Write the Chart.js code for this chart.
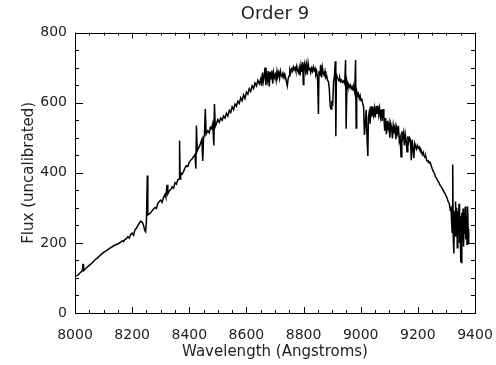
<!DOCTYPE html>
<html>
<head>
<meta charset="utf-8">
<title>Order 9</title>
<script src="https://cdn.jsdelivr.net/npm/chart.js@4/dist/chart.umd.min.js"></script>
<style>
  html, body { margin: 0; padding: 0; background: #fff; }
  #wrap { width: 496px; height: 365px; }
</style>
</head>
<body>
<div id="wrap"><canvas id="spectrumChart" width="496" height="365"></canvas></div>
<script>
// Spectrum, order 9 (wavelength in Angstroms, raw counts)
const wavelength = [
  8005, 8012, 8020, 8026, 8028, 8030, 8040, 8050, 8060, 8070, 8080, 8090, 8100, 8110, 8120, 8130,
  8140, 8150, 8160, 8165, 8170, 8175, 8180, 8185, 8190, 8195, 8200, 8205, 8210, 8215, 8220, 8225,
  8230, 8236, 8240, 8244, 8247, 8250, 8253, 8255, 8260, 8265, 8270, 8275, 8280, 8285, 8290, 8295,
  8300, 8305, 8310, 8315, 8318, 8322, 8325, 8330, 8335, 8340, 8345, 8350, 8355, 8360, 8364, 8366,
  8368, 8370, 8375, 8380, 8385, 8390, 8395, 8400, 8405, 8410, 8415, 8420, 8423, 8425, 8428, 8432,
  8436, 8440, 8444, 8447, 8450, 8453, 8456, 8459, 8465, 8470, 8474, 8478, 8482, 8486, 8488, 8491,
  8495, 8500, 8505, 8510, 8515, 8520, 8525, 8530, 8535, 8540, 8545, 8550, 8555, 8560, 8565, 8570,
  8575, 8580, 8585, 8590, 8595, 8600, 8605, 8610, 8615, 8620, 8625, 8630, 8635, 8640, 8645, 8650,
  8653, 8656, 8659, 8662, 8665, 8668, 8671, 8674, 8677, 8680, 8683, 8686, 8689, 8692, 8695, 8698,
  8701, 8704, 8707, 8710, 8713, 8716, 8719, 8722, 8725, 8728, 8731, 8734, 8737, 8740, 8743, 8746,
  8749, 8752, 8755, 8758, 8761, 8764, 8767, 8770, 8773, 8776, 8779, 8782, 8785, 8788, 8791, 8794,
  8797, 8799, 8801, 8804, 8807, 8810, 8813, 8816, 8819, 8822, 8825, 8828, 8831, 8834, 8837, 8840,
  8843, 8846, 8849, 8852, 8854, 8857, 8860, 8863, 8866, 8869, 8872, 8875, 8878, 8881, 8884, 8887,
  8890, 8893, 8896, 8899, 8902, 8905, 8908, 8911, 8913, 8915, 8918, 8921, 8924, 8927, 8930, 8933,
  8936, 8940, 8944, 8947, 8949, 8952, 8955, 8958, 8961, 8964, 8967, 8970, 8973, 8976, 8979, 8982,
  8984, 8986, 8989, 8992, 8995, 8998, 9001, 9004, 9007, 9010, 9013, 9016, 9019, 9022, 9025, 9027,
  9030, 9033, 9036, 9039, 9042, 9045, 9048, 9051, 9054, 9057, 9060, 9063, 9066, 9069, 9072, 9075,
  9078, 9081, 9084, 9087, 9090, 9093, 9096, 9099, 9102, 9105, 9108, 9111, 9114, 9117, 9120, 9123,
  9126, 9129, 9132, 9135, 9138, 9141, 9144, 9147, 9150, 9153, 9156, 9159, 9162, 9165, 9168, 9171,
  9174, 9177, 9180, 9183, 9186, 9189, 9192, 9195, 9198, 9201, 9204, 9207, 9210, 9213, 9216, 9219,
  9222, 9225, 9228, 9231, 9234, 9237, 9240, 9243, 9246, 9250, 9254, 9258, 9262, 9266, 9270, 9274,
  9278, 9282, 9286, 9290, 9294, 9298, 9302, 9306, 9310, 9313, 9316, 9318, 9320, 9322, 9324, 9326,
  9328, 9330, 9332, 9334, 9336, 9338, 9340, 9342, 9344, 9346, 9348, 9350, 9352, 9354, 9356, 9358,
  9360, 9362, 9364, 9366, 9368, 9370, 9372, 9374, 9376, 9378
];

const flux = [
  105, 110, 116, 122, 140, 121, 129, 136, 143, 152, 158, 166, 173, 178, 184, 189,
  194, 197, 202, 206, 204, 210, 212, 218, 214, 224, 228, 222, 238, 242, 250, 256,
  262, 258, 250, 236, 232, 260, 392, 280, 283, 286, 292, 297, 301, 298, 313, 318,
  322, 316, 330, 338, 330, 366, 340, 348, 352, 360, 356, 372, 368, 380, 382, 492,
  382, 400, 396, 404, 414, 420, 418, 430, 436, 440, 446, 452, 412, 535, 462, 470,
  476, 486, 496, 434, 500, 506, 582, 510, 520, 514, 530, 526, 540, 478, 596, 532,
  540, 552, 544, 556, 550, 562, 556, 570, 562, 578, 572, 588, 580, 596, 590, 604,
  598, 614, 606, 622, 612, 630, 624, 640, 632, 648, 640, 656, 648, 664, 654, 668,
  648, 686, 660, 676, 700, 650, 682, 664, 690, 646, 688, 668, 692, 654, 686, 672,
  680, 664, 690, 676, 686, 670, 690, 678, 674, 684, 676, 682, 672, 660, 648, 668,
  676, 694, 686, 696, 690, 702, 694, 700, 690, 704, 692, 686, 700, 678, 706, 688,
  716, 652, 700, 712, 690, 708, 680, 712, 694, 700, 686, 698, 690, 702, 692, 698,
  680, 688, 668, 568, 690, 676, 708, 672, 700, 684, 678, 690, 672, 676, 664, 660,
  640, 590, 582, 600, 596, 660, 676, 718, 504, 680, 672, 668, 662, 670, 660, 664,
  658, 662, 654, 722, 526, 660, 648, 652, 644, 650, 640, 646, 636, 642, 630, 722,
  528, 632, 620, 626, 612, 620, 606, 612, 596, 590, 508, 540, 580, 500, 448, 560,
  574, 540, 590, 560, 588, 566, 584, 558, 590, 570, 592, 566, 584, 560, 580, 548,
  582, 560, 520, 556, 510, 548, 528, 542, 500, 540, 530, 498, 536, 520, 532, 496,
  528, 514, 534, 490, 500, 446, 518, 500, 514, 478, 510, 492, 460, 504, 488, 500,
  494, 436, 494, 470, 442, 484, 476, 468, 478, 470, 474, 466, 468, 460, 452, 458,
  448, 444, 446, 436, 432, 434, 428, 430, 422, 412, 404, 398, 388, 384, 376, 372,
  364, 360, 354, 348, 342, 336, 328, 318, 312, 296, 300, 262, 230, 424, 212, 170,
  290, 220, 318, 250, 300, 186, 290, 228, 312, 200, 276, 150, 144, 286, 206, 298,
  190, 270, 226, 304, 210, 278, 196, 304, 240, 200
];

// Axis ticks
const xTicks = [8000, 8200, 8400, 8600, 8800, 9000, 9200, 9400];
const yTicks = [0, 200, 400, 600, 800];

const textColor = "#222";
const fontFamily = "'DejaVu Sans', sans-serif";

// IDL-style frame: box on all four sides, ticks pointing inward
const frameTicks = {
  id: "frameTicks",
  afterDraw(chart) {
    const { ctx, chartArea: a, scales } = chart;
    const x = scales.x, y = scales.y;
    ctx.save();
    ctx.strokeStyle = "#000";
    ctx.lineWidth = 1;
    ctx.strokeRect(Math.round(a.left) + 0.5, Math.round(a.top) + 0.5,
      Math.round(a.right - a.left), Math.round(a.bottom - a.top));
    ctx.beginPath();
    for (let v = x.min; v <= x.max; v += 50) {
      const px = Math.round(x.getPixelForValue(v)) + 0.5;
      const len = v % 200 === 0 ? 6 : 3;
      ctx.moveTo(px, a.bottom); ctx.lineTo(px, a.bottom - len);
      ctx.moveTo(px, a.top); ctx.lineTo(px, a.top + len);
    }
    for (let v = y.min; v <= y.max; v += 50) {
      const py = Math.round(y.getPixelForValue(v)) + 0.5;
      const len = v % 200 === 0 ? 8 : 4;
      ctx.moveTo(a.left, py); ctx.lineTo(a.left + len, py);
      ctx.moveTo(a.right, py); ctx.lineTo(a.right - len, py);
    }
    ctx.stroke();
    ctx.restore();
  },
};

function renderChart() {
  const points = wavelength.map((w, i) => ({ x: w, y: flux[i] }));
  const ctx = document.getElementById("spectrumChart").getContext("2d");

  new Chart(ctx, {
    type: "line",
    data: {
      datasets: [{
        data: points,
        borderColor: "#000",
        borderWidth: 1.5,
        pointRadius: 0,
        tension: 0,
        fill: false,
      }],
    },
    options: {
      responsive: false,
      animation: false,
      events: [],
      layout: { padding: { left: 0, right: 21, top: 0, bottom: 0 } },
      plugins: {
        legend: { display: false },
        tooltip: { enabled: false },
        title: {
          display: true,
          text: "Order 9",
          fullSize: false,
          color: textColor,
          font: { family: fontFamily, size: 18, weight: "normal" },
          padding: { top: 4, bottom: 7 },
        },
      },
      scales: {
        x: {
          type: "linear",
          min: 8000,
          max: 9400,
          afterBuildTicks: (axis) => { axis.ticks = xTicks.map((v) => ({ value: v })); },
          afterFit: (axis) => {
            axis.height = 52;
            axis.paddingLeft = 0;
            axis.paddingRight = 0;
          },
          grid: { display: false, drawTicks: false },
          border: { display: false },
          ticks: {
            color: textColor,
            padding: 14,
            maxRotation: 0,
            font: { family: fontFamily, size: 14 },
            callback: (v) => String(v),
          },
          title: {
            display: true,
            text: "Wavelength (Angstroms)",
            color: textColor,
            font: { family: fontFamily, size: 15 },
            padding: { top: 0, bottom: 4 },
          },
        },
        y: {
          min: 0,
          max: 800,
          afterBuildTicks: (axis) => { axis.ticks = yTicks.map((v) => ({ value: v })); },
          afterFit: (axis) => { axis.width = 75; },
          grid: { display: false, drawTicks: false },
          border: { display: false },
          ticks: {
            color: textColor,
            padding: 8,
            font: { family: fontFamily, size: 14 },
            callback: (v) => String(v),
          },
          title: {
            display: true,
            text: "Flux (uncalibrated)",
            color: textColor,
            font: { family: fontFamily, size: 15 },
            padding: { top: 20, bottom: 0 },
          },
        },
      },
    },
    plugins: [frameTicks],
  });
}

renderChart();
</script>
</body>
</html>
